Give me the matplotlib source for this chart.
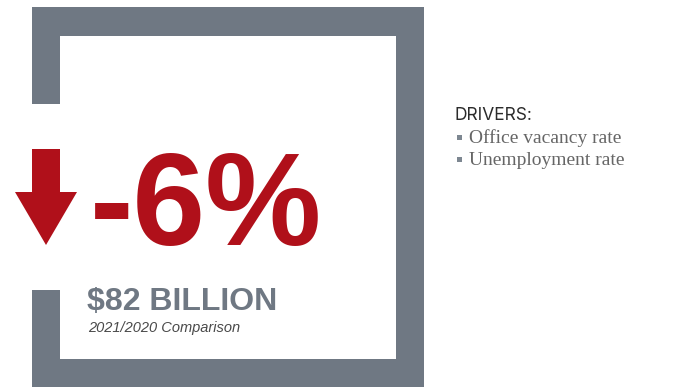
import matplotlib.pyplot as plt
from matplotlib.patches import Rectangle, Polygon

# headline figures
change_pct = -6
volume_billion = 82
period_label = "2021/2020 Comparison"
drivers_title = "DRIVERS:"
drivers = ["Office vacancy rate", "Unemployment rate"]

RED = "#B0101A"
SLATE = "#6F7883"

fig = plt.figure(figsize=(6.81, 3.87), dpi=100)
ax = fig.add_axes([0, 0, 1, 1])
ax.set_xlim(0, 681)
ax.set_ylim(387, 0)
ax.axis("off")

# open frame (gap on the left side for the arrow)
frame = [
    (32, 7, 392, 29),     # top
    (396, 7, 28, 380),    # right
    (32, 359, 392, 28),   # bottom
    (32, 7, 28, 97),      # left, upper piece
    (32, 290, 28, 97),    # left, lower piece
]
for x, y, w, h in frame:
    ax.add_patch(Rectangle((x, y), w, h, facecolor=SLATE, edgecolor="none"))

# down arrow
arrow = [(32, 149), (60, 149), (60, 192), (77, 192), (46, 245),
         (15, 192), (32, 192)]
ax.add_patch(Polygon(arrow, closed=True, facecolor=RED, edgecolor="none"))

ax.text(90, 245, f"{change_pct}%", color=RED, fontsize=94,
        fontweight="bold", family="Liberation Sans", va="baseline")

ax.text(87, 310, f"${volume_billion} BILLION", color=SLATE, fontsize=23,
        fontweight="bold", family="Liberation Sans", va="baseline")
ax.text(88, 332, period_label, color="#4a4a4a", fontsize=10.5,
        style="italic", family="Liberation Sans", va="baseline")

# drivers list
ax.text(455, 120, drivers_title, color="#2b2b2b", fontsize=12.5,
        family="Inter", va="baseline")
for i, name in enumerate(drivers):
    base = 143 + i * 22
    ax.add_patch(Rectangle((457, base - 8), 5, 5, facecolor="#7d8791",
                           edgecolor="none"))
    ax.text(469, base, name, color="#666666", fontsize=14,
            family="Liberation Serif", va="baseline")

fig.savefig("out.png", dpi=100)
